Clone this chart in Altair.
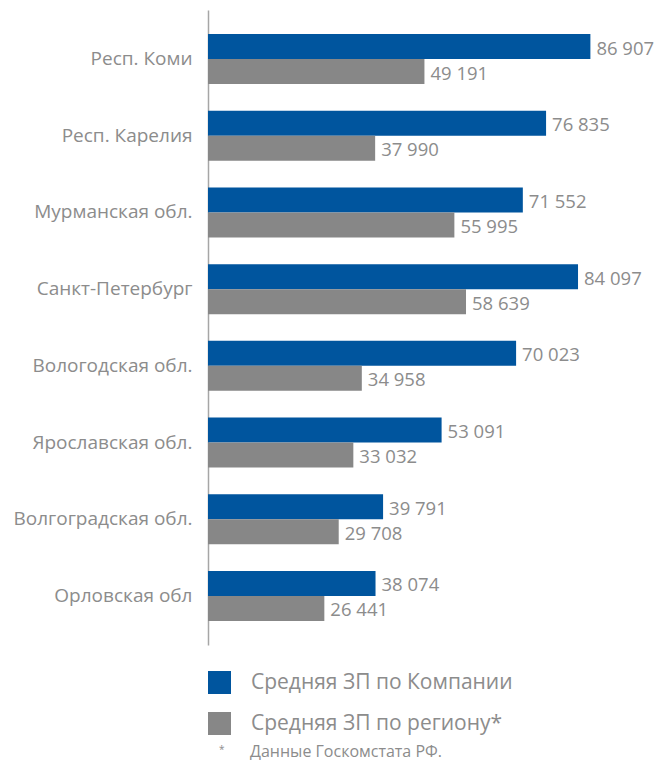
import altair as alt
import pandas as pd

regions = ["Респ. Коми", "Респ. Карелия", "Мурманская обл.", "Санкт-Петербург",
           "Вологодская обл.", "Ярославская обл.", "Волгоградская обл.", "Орловская обл"]
company = [86907, 76835, 71552, 84097, 70023, 53091, 39791, 38074]
regional = [49191, 37990, 55995, 58639, 34958, 33032, 29708, 26441]
series = ["Средняя ЗП по Компании", "Средняя ЗП по региону*"]
colors = ["#00559E", "#878787"]
footnote = "Данные Госкомстата РФ."

rows = []
for r, c, g in zip(regions, company, regional):
    rows.append({"region": r, "series": series[0], "value": c, "label": f"{c:,}".replace(",", " ")})
    rows.append({"region": r, "series": series[1], "value": g, "label": f"{g:,}".replace(",", " ")})
df = pd.DataFrame(rows)

FONT = "Open Sans"
TXT = "#8c8c8c"

y_enc = alt.Y("region:N", sort=regions, title=None,
              scale=alt.Scale(paddingInner=0.348, paddingOuter=0.3135),
              axis=alt.Axis(labelFontSize=19, labelColor=TXT, labelFont=FONT,
                            labelPadding=16, ticks=False, domainColor="#A6A6A6",
                            domainWidth=1.5, labelLimit=300))
yoff = alt.YOffset("series:N", sort=series, scale=alt.Scale(paddingInner=0, paddingOuter=0))
x_enc = alt.X("value:Q", scale=alt.Scale(domain=[0, 100000]), axis=None)

bars = alt.Chart(df).mark_bar().encode(
    y=y_enc, yOffset=yoff, x=x_enc,
    color=alt.Color("series:N", sort=series,
                    scale=alt.Scale(domain=series, range=colors),
                    legend=alt.Legend(title=None, orient="none", legendX=0, legendY=661,
                                      symbolType="square", symbolSize=529,
                                      symbolStrokeWidth=0, labelFontSize=21,
                                      labelColor=TXT, labelFont=FONT, labelOffset=20,
                                      rowPadding=18, labelLimit=400))
)

labels = alt.Chart(df).mark_text(align="left", baseline="middle", dx=6, dy=2,
                                 fontSize=18.5, font=FONT, color=TXT).encode(
    y=alt.Y("region:N", sort=regions), yOffset=yoff, x=x_enc, text="label:N"
)

fn = pd.DataFrame({"star": ["*"], "t": [footnote]})
star = alt.Chart(fn).mark_text(align="left", baseline="top", fontSize=10,
                               font=FONT, color=TXT).encode(
    x=alt.value(11), y=alt.value(735), text="star:N")
note = alt.Chart(fn).mark_text(align="left", baseline="alphabetic", fontSize=16,
                               font=FONT, color=TXT).encode(
    x=alt.value(42), y=alt.value(747), text="t:N")

chart = alt.layer(bars, labels, star, note).properties(
    width=440, height=635,
    autosize=alt.AutoSizeParams(type="none"),
    padding={"left": 200, "top": 2, "right": 7, "bottom": 116},
).configure(font=FONT).configure_view(stroke=None)

chart.save("out.html", embed_options={"renderer": "svg", "actions": False})
